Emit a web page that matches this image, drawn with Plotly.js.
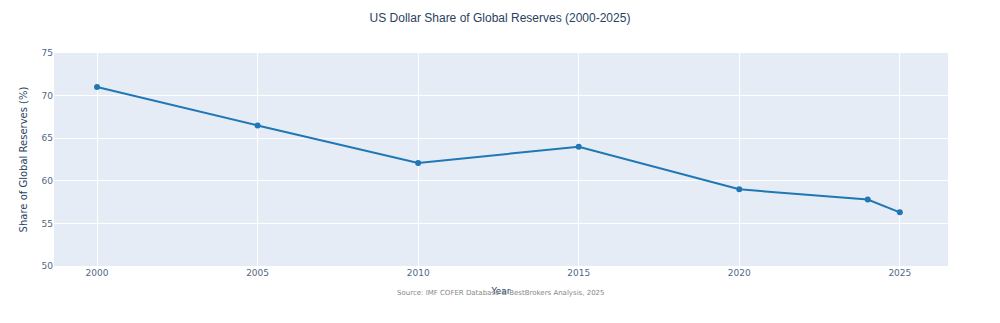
<!DOCTYPE html>
<html>
<head>
<meta charset="utf-8">
<script src="https://cdn.plot.ly/plotly-3.0.1.min.js"></script>
<style>html,body{margin:0;padding:0;background:#fff;}#chart{width:1000px;height:323px;}</style>
</head>
<body>
<div id="chart"></div>
<script>
const years = [2000, 2005, 2010, 2015, 2020, 2024, 2025];
const usdShare = [71.0, 66.5, 62.1, 64.0, 59.0, 57.8, 56.3];
const xTicks = [2000, 2005, 2010, 2015, 2020, 2025];
const yTicks = [50, 55, 60, 65, 70, 75];

const trace = {
  x: years,
  y: usdShare,
  type: 'scatter',
  mode: 'lines+markers',
  line: {color: '#1f77b4', width: 2},
  marker: {color: '#1f77b4', size: 6},
  name: 'USD Share'
};

const layout = {
  width: 1000,
  height: 323,
  margin: {l: 54, r: 52, t: 53, b: 57},
  paper_bgcolor: '#ffffff',
  plot_bgcolor: '#e5ecf6',
  font: {family: 'Verdana, "DejaVu Sans", sans-serif', color: '#2a3f5f'},
  title: {text: 'US Dollar Share of Global Reserves (2000-2025)', x: 0.5, xanchor: 'center', y: 0.945, yanchor: 'middle',
          font: {family: '"Liberation Sans", Arial, sans-serif', size: 12, color: '#2a3f5f'}},
  showlegend: false,
  xaxis: {
    title: {text: 'Year', font: {size: 9, color: '#2a3f5f'}, standoff: 10},
    range: [1998.66, 2026.5],
    tickvals: xTicks,
    ticktext: xTicks.map(String),
    tickfont: {size: 9, color: '#506784'},
    gridcolor: '#ffffff',
    zeroline: false,
    showline: false
  },
  yaxis: {
    title: {text: 'Share of Global Reserves (%)', font: {size: 10, color: '#2a3f5f'}, standoff: 12},
    range: [50, 75],
    tickvals: yTicks,
    ticktext: yTicks.map(String),
    tickfont: {size: 9, color: '#506784'},
    gridcolor: '#ffffff',
    zeroline: false,
    showline: false
  },
  annotations: [{
    text: 'Source: IMF COFER Database & BestBrokers Analysis, 2025',
    xref: 'paper', yref: 'paper',
    x: 0.5, y: -0.097, xanchor: 'center', yanchor: 'top',
    showarrow: false,
    font: {size: 7, color: '#888888'}
  }]
};

Plotly.newPlot('chart', [trace], layout, {displayModeBar: false, staticPlot: true});
</script>
</body>
</html>
